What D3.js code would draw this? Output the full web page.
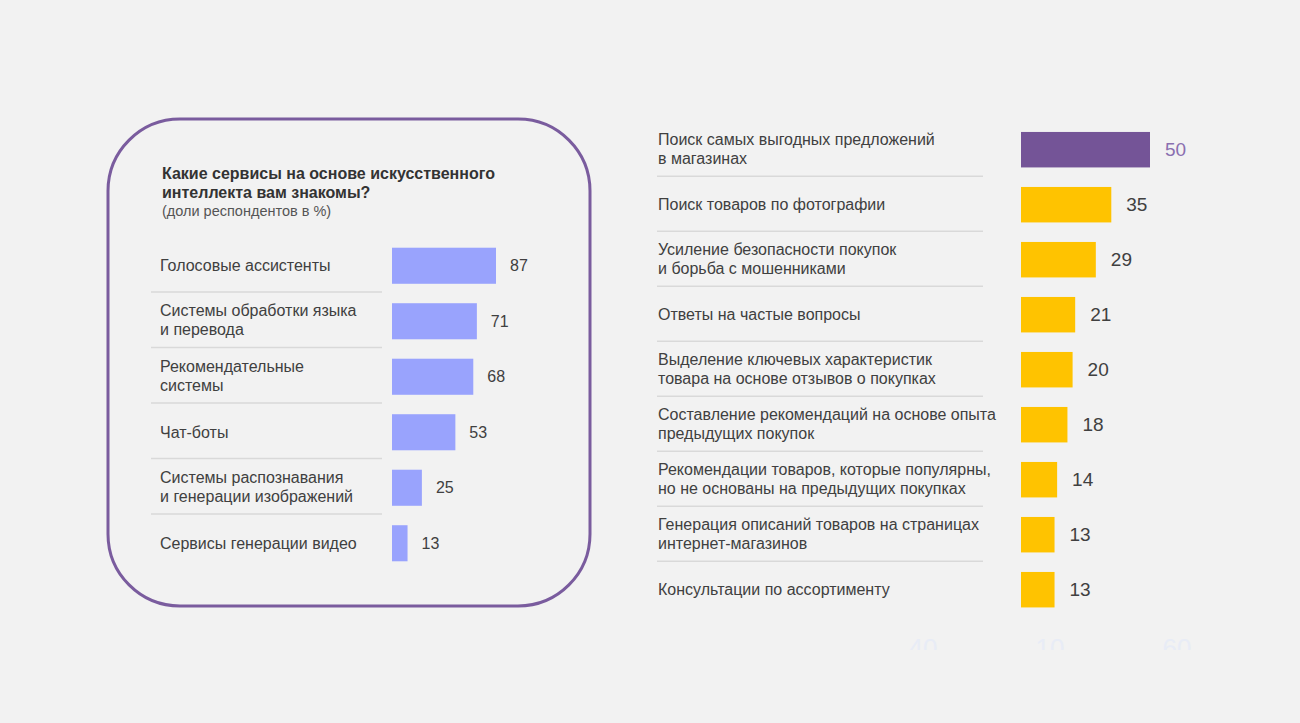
<!DOCTYPE html>
<html>
<head>
<meta charset="utf-8">
<script src="https://cdn.jsdelivr.net/npm/d3@7"></script>
<style>
  body { margin: 0; background: #f2f2f2; }
  svg { display: block; font-family: "Liberation Sans", Arial, sans-serif; }
</style>
</head>
<body>
<div id="chart"></div>
<script>
    // left panel: known AI services
    const leftTitle = ["Какие сервисы на основе искусственного", "интеллекта вам знакомы?"];
    const leftSubtitle = "(доли респондентов в %)";
    const leftLabels = [
        ["Голосовые ассистенты"],
        ["Системы обработки языка", "и перевода"],
        ["Рекомендательные", "системы"],
        ["Чат-боты"],
        ["Системы распознавания", "и генерации изображений"],
        ["Сервисы генерации видео"]
    ];
    const leftValues = [87, 71, 68, 53, 25, 13];

    // right panel: AI uses in shopping
    const rightLabels = [
        ["Поиск самых выгодных предложений", "в магазинах"],
        ["Поиск товаров по фотографии"],
        ["Усиление безопасности покупок", "и борьба с мошенниками"],
        ["Ответы на частые вопросы"],
        ["Выделение ключевых характеристик", "товара на основе отзывов о покупках"],
        ["Составление рекомендаций на основе опыта", "предыдущих покупок"],
        ["Рекомендации товаров, которые популярны,", "но не основаны на предыдущих покупках"],
        ["Генерация описаний товаров на страницах", "интернет-магазинов"],
        ["Консультации по ассортименту"]
    ];
    const rightValues = [50, 35, 29, 21, 20, 18, 14, 13, 13];

    // faint leftover axis ticks under the right panel
    const ghostTicks = ["40", "10", "60"];

    const W = 1300, H = 723;
    const textColor = "#404040";

    const svg = d3.select("#chart")
        .append("svg")
        .attr("width", W)
        .attr("height", H);

    svg.append("rect").attr("width", W).attr("height", H).attr("fill", "#f2f2f2");

    // rounded frame around left panel
    svg.append("rect")
        .attr("x", 108).attr("y", 119)
        .attr("width", 482).attr("height", 487)
        .attr("rx", 72).attr("ry", 72)
        .attr("fill", "none")
        .attr("stroke", "#7a5c9e")
        .attr("stroke-width", 3);

    svg.append("text")
        .attr("x", 162).attr("y", 179)
        .style("font-weight", "bold").style("font-size", "16px")
        .attr("fill", "#333")
        .selectAll("tspan")
        .data(leftTitle)
        .join("tspan")
        .attr("x", 162)
        .attr("dy", (d, i) => i ? 19 : 0)
        .text(d => d);

    svg.append("text")
        .attr("x", 162).attr("y", 216)
        .style("font-size", "14.5px")
        .attr("fill", "#555")
        .text(leftSubtitle);

    function drawPanel(cfg) {
        const idx = d3.range(cfg.values.length);
        const y = d3.scaleBand()
            .domain(idx)
            .range(cfg.yRange)
            .paddingInner(cfg.pad)
            .paddingOuter(cfg.pad / 2);
        const x = d3.scaleLinear()
            .domain([0, cfg.max])
            .range([cfg.x0, cfg.x1]);
        const g = svg.append("g");
        const mid = i => y(i) + y.bandwidth() / 2;

        // separators between rows
        g.selectAll("line.sep")
            .data(idx.slice(1))
            .join("line")
            .attr("class", "sep")
            .attr("x1", cfg.sepX[0]).attr("x2", cfg.sepX[1])
            .attr("y1", i => mid(i) - y.step() / 2 + cfg.sepOffset)
            .attr("y2", i => mid(i) - y.step() / 2 + cfg.sepOffset)
            .attr("stroke", "#d9d9d9")
            .attr("stroke-width", 1.5);

        g.selectAll("rect.bar")
            .data(idx)
            .join("rect")
            .attr("class", "bar")
            .attr("x", x(0))
            .attr("y", i => y(i))
            .attr("width", i => x(cfg.values[i]) - x(0))
            .attr("height", y.bandwidth())
            .attr("fill", i => cfg.color(i));

        g.selectAll("text.lab")
            .data(idx)
            .join("text")
            .attr("class", "lab")
            .style("font-size", cfg.labelSize)
            .attr("fill", textColor)
            .each(function (i) {
                const lines = cfg.labels[i];
                const t = d3.select(this);
                const top = mid(i) - (lines.length - 1) * cfg.lineH / 2 - (lines.length - 1) * 1;
                lines.forEach((s, k) => {
                    t.append("tspan")
                        .attr("x", cfg.labelX)
                        .attr("y", top + k * cfg.lineH)
                        .attr("dy", "0.35em")
                        .text(s);
                });
            });

        g.selectAll("text.val")
            .data(idx)
            .join("text")
            .attr("class", "val")
            .attr("x", i => x(cfg.values[i]) + cfg.valGap)
            .attr("y", i => mid(i))
            .attr("dy", "0.35em")
            .style("font-size", cfg.valSize)
            .attr("fill", i => cfg.valColor(i))
            .text(i => cfg.values[i]);
    }

    drawPanel({
        labels: leftLabels, values: leftValues,
        yRange: [238, 571], pad: 0.35,
        max: 87, x0: 392, x1: 496,
        color: () => "#99a3fd",
        labelX: 160, labelSize: "16px", lineH: 19,
        sepX: [151, 382], sepOffset: -1.5,
        valGap: 14, valSize: "16px",
        valColor: () => textColor
    });

    drawPanel({
        labels: rightLabels, values: rightValues,
        yRange: [122.2, 617.2], pad: 0.355,
        max: 50, x0: 1021, x1: 1150,
        color: i => i === 0 ? "#745497" : "#ffc300",
        labelX: 658, labelSize: "16px", lineH: 19,
        sepX: [657, 983], sepOffset: -1,
        valGap: 15, valSize: "19px",
        valColor: i => i === 0 ? "#8a6fb0" : textColor
    });

    // ghost ticks, clipped
    svg.append("clipPath").attr("id", "ghostClip")
        .append("rect").attr("x", 880).attr("y", 630).attr("width", 340).attr("height", 20);
    const tx = d3.scalePoint().domain(ghostTicks).range([923, 1177]);
    svg.append("g").attr("clip-path", "url(#ghostClip)")
        .selectAll("text")
        .data(ghostTicks)
        .join("text")
        .attr("x", d => tx(d))
        .attr("y", 657)
        .attr("text-anchor", "middle")
        .style("font-size", "26px")
        .attr("fill", "#e8ecf6")
        .text(d => d);
</script>
</body>
</html>
